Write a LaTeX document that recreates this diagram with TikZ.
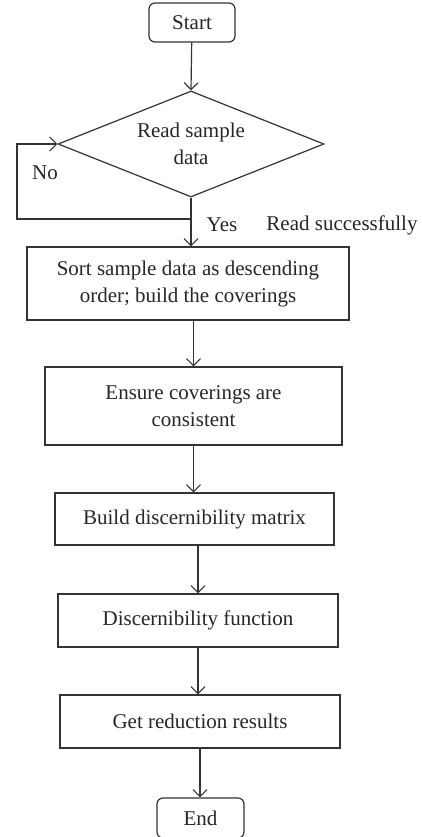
\documentclass[tikz,border=0pt]{standalone}
\usepackage{fontspec}
\setmainfont{Liberation Serif}
\usetikzlibrary{arrows.meta,shapes.geometric}
\begin{document}
\begin{tikzpicture}[x=1pt,y=-1pt,
  every node/.style={font=\fontsize{21}{27}\selectfont, text=black!85},
  line/.style={draw=black!80, line width=1.2pt},
  arr/.style={line, -{Straight Barb[length=7pt,width=14pt,line width=1.1pt]}},
  term/.style={line, rounded corners=6pt, inner sep=0pt},
  proc/.style={line, inner sep=0pt, align=center},
  dec/.style={line, diamond, inner sep=0pt, aspect=2.5, align=center},
  lbl/.style={inner sep=0pt}]
  \useasboundingbox (0,0) rectangle (421,837);
  % terminals, decision and process boxes
  \node[term, minimum width=86pt, minimum height=39pt] (start) at (192,22.5) {Start};
  \node[dec, minimum width=266pt, minimum height=106pt] (read) at (191,144) {Read sample\\data};
  \node[proc, minimum width=322pt, minimum height=73pt] (sort) at (188,283.5) {Sort sample data as descending\\order; build the coverings};
  \node[proc, minimum width=297pt, minimum height=78pt] (ensure) at (193.5,406) {Ensure coverings are\\consistent};
  \node[proc, minimum width=279pt, minimum height=52pt] (matrix) at (194.5,519) {Build discernibility matrix};
  \node[proc, minimum width=280pt, minimum height=53pt] (func) at (198,620.5) {Discernibility function};
  \node[proc, minimum width=280pt, minimum height=53pt] (result) at (200,721.5) {Get reduction results};
  \node[term, minimum width=87pt, minimum height=40pt] (end) at (200.5,818) {End};
  % loop back on a failed read
  \coordinate (join) at (191,219);
  \coordinate (back) at (17,219);
  \draw[line] (read.south) -- (join);
  \draw[arr] (join) -- (back) |- (read.west);
  \node[lbl] (no) at (45,173) {No};
  \node[lbl] (yes) at (222,225) {Yes};
  \node[lbl] (ok) at (342,225) {Read successfully};
  % main flow
  \draw[arr] (start) -- (read.north);
  \draw[arr] (join) -- (join |- sort.north);
  \draw[arr] (ensure.north |- sort.south) -- (ensure.north);
  \draw[arr] (ensure.south) -- (ensure.south |- matrix.north);
  \draw[arr] (func.north |- matrix.south) -- (func.north);
  \draw[arr] (func.south) -- (func.south |- result.north);
  \draw[arr] (result.south) -- (result.south |- end.north);
\end{tikzpicture}
\end{document}
